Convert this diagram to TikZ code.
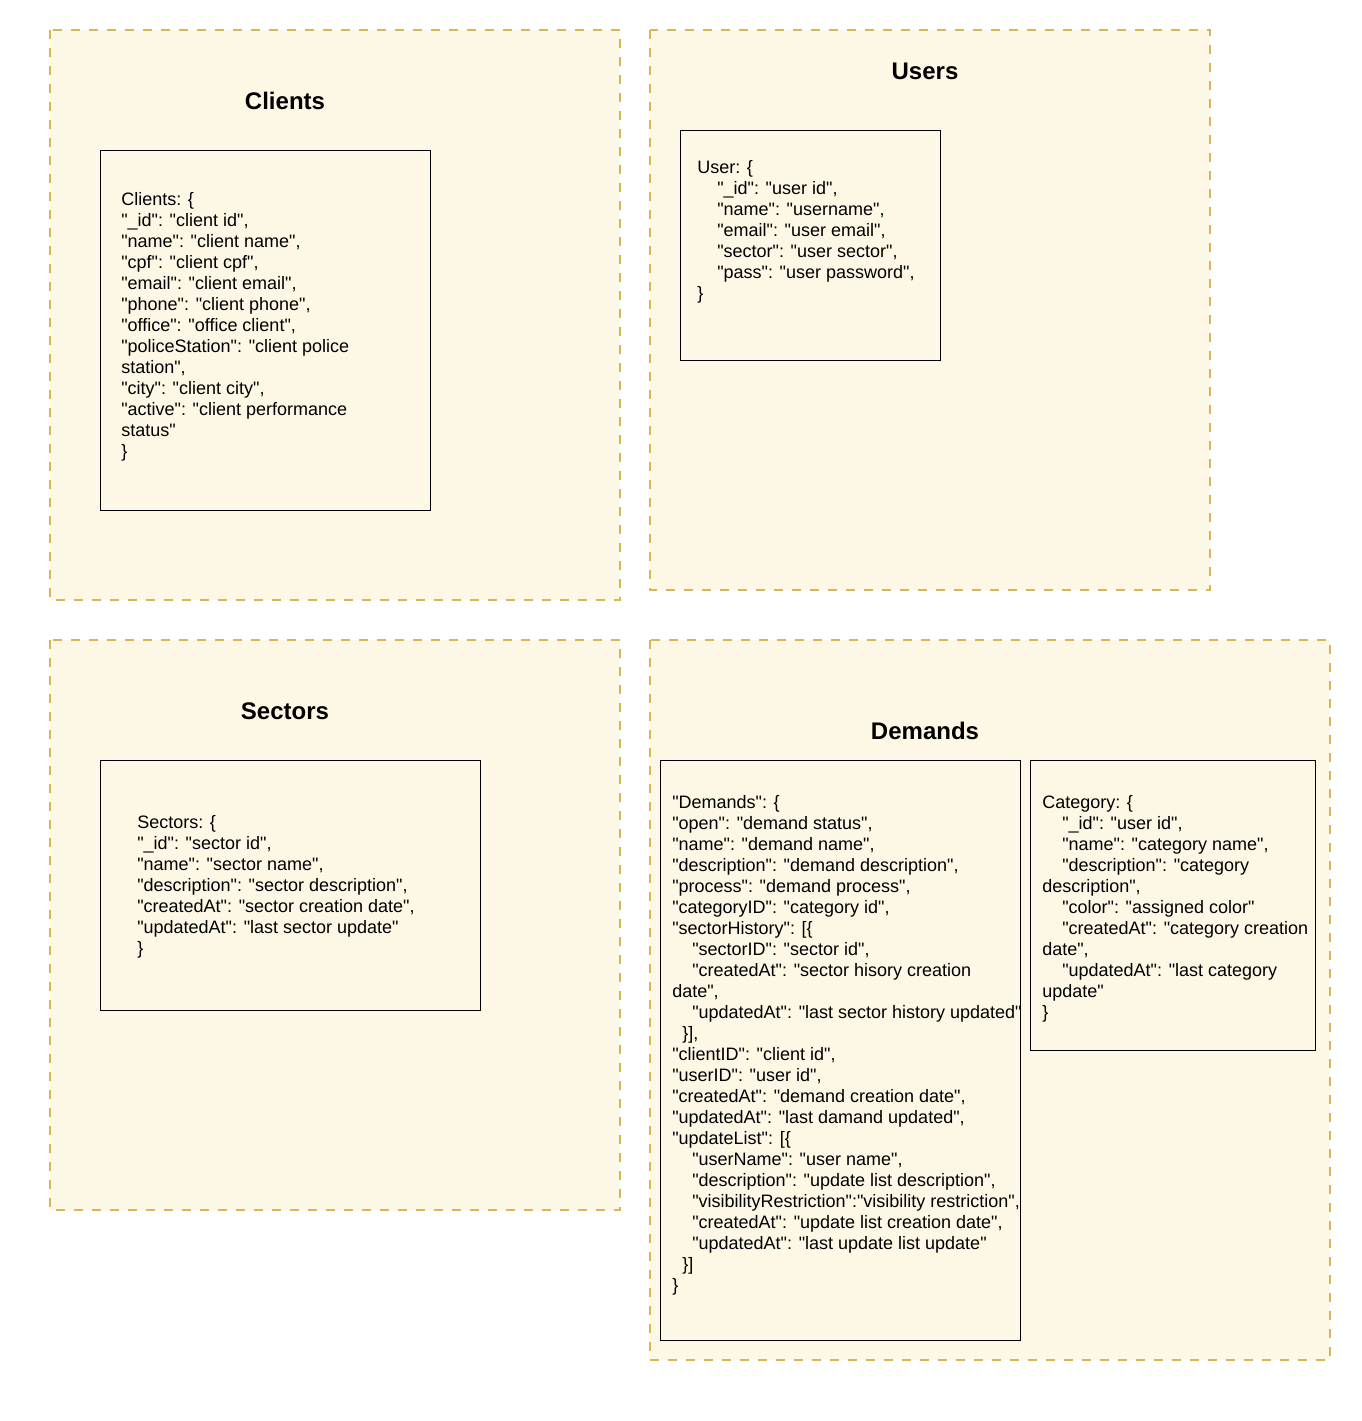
\documentclass[tikz,border=0pt]{standalone}
\usepackage{fontspec}
\setmainfont{Liberation Sans}[Ligatures=TeXOff]
\usetikzlibrary{positioning}

\definecolor{groupfill}{HTML}{FDF8E5}
\definecolor{groupline}{HTML}{D6B656}

\newcommand{\ind}{\hspace*{15pt}}

\begin{document}
\begin{tikzpicture}[x=0.75pt,y=-0.75pt,
    group/.style={draw=groupline,fill=groupfill,line width=1.8pt,dash pattern=on 6.75pt off 6.75pt},
    docbox/.style={draw=black,fill=groupfill,line width=0.75pt},
    title/.style={font=\fontsize{18}{21.6}\selectfont\bfseries,inner sep=0pt},
    doc/.style={font=\fontsize{13.5}{15.75}\selectfont,align=left,anchor=west,inner sep=0pt}]
  \useasboundingbox (0,0) rectangle (1361,1421);

  % collections
  \draw[group] (50,30) rectangle (620,600);
  \draw[group] (650,30) rectangle (1210,590);
  \draw[group] (50,640) rectangle (620,1210);
  \draw[group] (650,640) rectangle (1330,1360);

  \node[title] (clients title) at (285,101) {Clients};
  \node[title] (users title) at (925,71) {Users};
  \node[title] (sectors title) at (285,711) {Sectors};
  \node[title] (demands title) at (925,731) {Demands};

  % documents
  \draw[docbox] (100,150) rectangle (430,510);
  \node[doc] (clients doc) at (121,327) {Clients: \{\\
    "\_id": "client id",\\
    "name": "client name",\\
    "cpf": "client cpf",\\
    "email": "client email",\\
    "phone": "client phone",\\
    "office": "office client",\\
    "policeStation": "client police\\
    station",\\
    "city": "client city",\\
    "active": "client performance\\
    status"\\
    \}};

  \draw[docbox] (680,130) rectangle (940,360);
  \node[doc] (users doc) at (697,232) {User: \{\\
    \ind"\_id": "user id",\\
    \ind"name": "username",\\
    \ind"email": "user email",\\
    \ind"sector": "user sector",\\
    \ind"pass": "user password",\\
    \}};

  \draw[docbox] (100,760) rectangle (480,1010);
  \node[doc] (sectors doc) at (137,887) {Sectors: \{\\
    "\_id": "sector id",\\
    "name": "sector name",\\
    "description": "sector description",\\
    "createdAt": "sector creation date",\\
    "updatedAt": "last sector update"\\
    \}};

  \draw[docbox] (660,760) rectangle (1020,1340);
  \node[doc] (demands doc) at (672,1045.5) {"Demands": \{\\
    "open": "demand status",\\
    "name": "demand name",\\
    "description": "demand description",\\
    "process": "demand process",\\
    "categoryID": "category id",\\
    "sectorHistory": [\{\\
    \ind"sectorID": "sector id",\\
    \ind"createdAt": "sector hisory creation\\
    date",\\
    \ind"updatedAt": "last sector history updated"\\
    \hspace*{7.5pt}\}],\\
    "clientID": "client id",\\
    "userID": "user id",\\
    "createdAt": "demand creation date",\\
    "updatedAt": "last damand updated",\\
    "updateList": [\{\\
    \ind"userName": "user name",\\
    \ind"description": "update list description",\\
    \ind"visibilityRestriction":"visibility restriction",\\
    \ind"createdAt": "update list creation date",\\
    \ind"updatedAt": "last update list update"\\
    \hspace*{7.5pt}\}]\\
    \}};

  \draw[docbox] (1030,760) rectangle (1315,1050);
  \node[doc] (category doc) at (1042,909) {Category: \{\\
    \ind"\_id": "user id",\\
    \ind"name": "category name",\\
    \ind"description": "category\\
    description",\\
    \ind"color": "assigned color"\\
    \ind"createdAt": "category creation\\
    date",\\
    \ind"updatedAt": "last category\\
    update"\\
    \}};
\end{tikzpicture}
\end{document}
